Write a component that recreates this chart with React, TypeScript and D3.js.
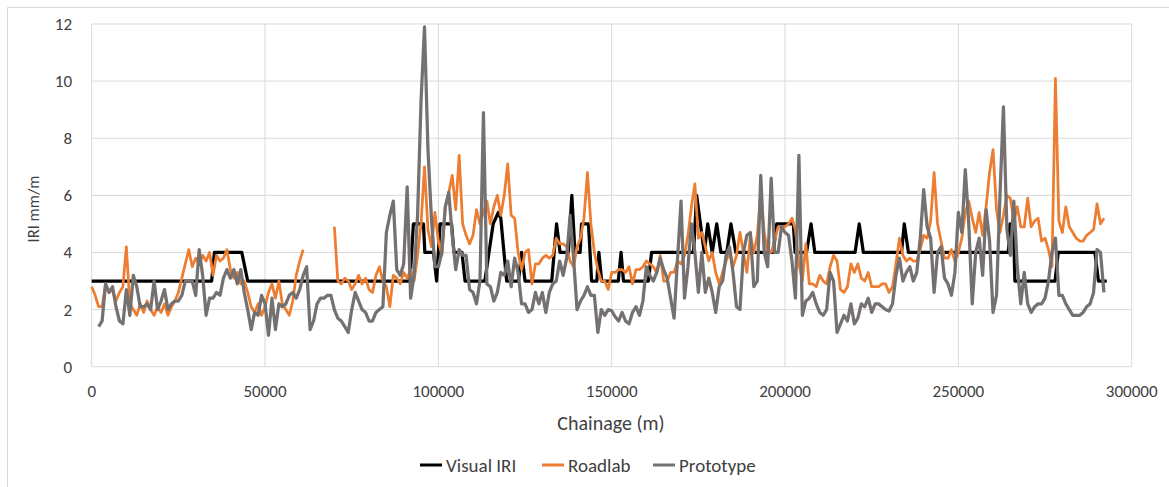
import React from 'react';
import * as d3 from 'd3';

// ---- data ----
const STEP = 1000; // chainage sampling (m)
const ROADLAB_START = 0;
const PROTOTYPE_START = 2000;

const xTicks = [0, 50000, 100000, 150000, 200000, 250000, 300000];
const yTicks = [0, 2, 4, 6, 8, 10, 12];

// Visual IRI vertices: chainage (m) and IRI
const visualChainage = [
  0, 34600, 35400, 43300, 45000, 91800, 92800, 95700, 96100, 98600, 99500, 100500, 103800, 104500, 106800, 107700,
  113400, 115800, 117300, 118000, 119700, 123100, 124000, 125000, 132700, 134100, 135100, 137500, 138500, 139400,
  140900, 141300, 143300, 144200, 145700, 146300, 147100, 151900, 152700, 153400, 160600, 161500, 173600, 174500,
  176700, 177700, 179000, 180300, 181500, 183200, 184400, 185800, 196600, 197600, 202400, 202900, 206200, 207500,
  208600, 220200, 221400, 222600, 233600, 234400, 235600, 264400, 264900, 265900, 266300, 277900, 278800, 289400,
  290400, 292800,
];
const visualIRI = [
  3, 3, 4, 4, 3, 3, 5, 5, 4, 4, 3, 5, 5, 4, 4, 3,
  3, 5, 5.4, 5.2, 3, 3, 4, 3, 3, 5, 4, 4, 6, 4,
  4, 5, 5, 3, 3, 4, 3, 3, 4, 3, 3, 4, 4, 6,
  4, 5, 4, 5, 4, 4, 5, 4, 4, 5, 5, 4, 4, 5,
  4, 4, 5, 4, 4, 5, 4, 4, 5, 5, 3, 3, 4, 4,
  3, 3,
];

// Roadlab, every 1000 m from 0 (null = no data)
const roadlab: (number | null)[] = [
  2.8, 2.5, 2.1, 2.1, 2.9, 2.6, 2.7, 2.3, 2.6, 2.8,
  4.2, 2.2, 2.0, 1.8, 2.2, 1.9, 2.3, 2.0, 1.8, 2.1,
  1.9, 2.2, 1.8, 2.1, 2.3, 2.6, 3.1, 3.6, 4.1, 3.5,
  3.8, 3.6, 3.9, 3.7, 4.0, 3.2, 3.9, 3.7, 3.8, 4.1,
  3.4, 3.1, 3.3, 2.9, 3.0, 2.6, 2.1, 1.9, 2.2, 1.8,
  2.1, 2.6, 2.9, 2.4, 3.0, 2.2, 2.0, 1.8, 2.3, 3.2,
  3.7, 4.1, null, null, null, null, null, null, null, null,
  4.9, 3.0, 2.9, 3.1, 3.0, 2.7, 2.9, 3.2, 2.9, 3.1,
  2.7, 2.6, 3.2, 3.5, 3.0, 2.8, 2.1, 3.2, 3.1, 2.9,
  3.3, 3.1, 3.4, 3.0, 3.9, 5.0, 7.0, 4.8, 4.2, 5.4,
  4.4, 3.9, 5.6, 6.1, 6.7, 5.5, 7.4, 5.0, 4.6, 4.3,
  4.6, 5.5, 5.0, 5.4, 5.8, 5.0, 5.6, 6.0, 5.3, 6.0,
  7.1, 5.3, 5.2, 4.0, 3.4, 4.0, 4.1, 2.9, 3.6, 3.6,
  3.8, 3.9, 3.8, 3.9, 4.5, 4.3, 4.3, 4.2, 3.7, 3.5,
  4.2, 4.5, 5.2, 6.8, 5.0, 4.0, 3.4, 3.0, 3.0, 2.7,
  3.3, 3.3, 3.4, 3.4, 3.3, 3.5, 2.9, 3.4, 3.4, 3.5,
  3.7, 3.6, 3.5, 3.3, 3.9, 3.0, 3.0, 3.3, 3.3, 3.7,
  3.6, 3.9, 4.6, 5.6, 6.4, 4.5, 4.7, 4.2, 3.7, 4.0,
  3.3, 2.9, 3.3, 3.7, 4.0, 3.5, 3.9, 4.7, 4.0, 3.3,
  4.6, 4.0, 4.6, 6.1, 4.7, 4.0, 4.0, 4.4, 4.9, 4.9,
  4.9, 5.0, 5.2, 4.8, 3.6, 3.0, 4.3, 2.9, 2.9, 2.8,
  3.2, 3.0, 2.9, 3.5, 3.9, 3.7, 2.7, 2.6, 2.8, 3.6,
  3.3, 3.6, 3.1, 3.0, 3.3, 2.8, 2.8, 2.8, 2.9, 2.9,
  2.6, 2.8, 3.6, 4.5, 3.9, 3.7, 3.8, 3.7, 3.7, 4.1,
  4.6, 4.5, 5.1, 6.8, 5.0, 4.4, 3.8, 3.8, 4.1, 3.7,
  4.0, 4.5, 5.4, 5.8, 5.2, 4.7, 5.4, 4.6, 5.6, 6.8,
  7.6, 5.5, 4.7, 5.3, 6.0, 5.9, 5.1, 5.6, 4.9, 4.9,
  5.9, 4.9, 5.1, 5.2, 4.4, 4.5, 4.1, 3.5, 10.1, 5.1,
  4.7, 5.6, 4.9, 4.7, 4.5, 4.4, 4.4, 4.6, 4.7, 4.8,
  5.7, 5.0, 5.2,
];

// Prototype, every 1000 m from 2000 m
const prototype: number[] = [
  1.4, 1.6, 2.9, 2.6, 2.8, 2.1, 1.6, 1.5,
  2.7, 1.8, 3.2, 2.8, 2.1, 2.1, 2.2, 2.0, 3.0, 2.0,
  2.3, 2.7, 2.0, 2.2, 2.3, 2.3, 2.5, 3.0, 3.0, 3.0,
  2.5, 4.1, 3.2, 1.8, 2.4, 2.4, 2.6, 2.5, 3.1, 3.4,
  3.1, 3.4, 2.9, 3.4, 2.6, 2.0, 1.3, 1.9, 1.8, 2.5,
  2.2, 1.1, 2.4, 1.3, 2.2, 2.1, 2.2, 2.5, 2.6, 2.4,
  2.7, 3.2, 3.5, 1.3, 1.6, 2.2, 2.4, 2.4, 2.5, 2.5,
  2.0, 1.7, 1.6, 1.4, 1.2, 2.0, 2.6, 2.3, 2.0, 1.9,
  1.6, 1.6, 1.9, 2.0, 2.1, 4.7, 5.3, 5.8, 3.4, 3.2,
  3.6, 6.3, 2.4, 3.2, 5.3, 9.3, 11.9, 7.6, 5.2, 3.5,
  3.5, 4.0, 5.6, 6.1, 4.6, 3.4, 4.1, 3.9, 3.9, 2.7,
  2.6, 2.2, 3.0, 8.9, 2.9, 2.8, 2.3, 2.6, 3.3, 3.2,
  3.7, 2.8, 3.8, 3.3, 2.2, 2.2, 1.9, 2.0, 2.6, 2.2,
  2.6, 1.9, 2.6, 2.9, 3.0, 3.7, 3.2, 3.8, 5.3, 3.8,
  2.0, 2.3, 2.5, 2.8, 2.5, 2.5, 1.2, 2.0, 1.8, 2.0,
  1.96, 1.75, 1.6, 1.9, 1.6, 1.5, 1.9, 2.1, 1.8, 2.3,
  3.5, 3.2, 3.0, 3.3, 3.8, 3.4, 3.1, 2.4, 1.7, 3.8,
  5.8, 2.4, 3.5, 5.0, 4.0, 2.6, 4.0, 2.6, 3.1, 2.6,
  1.9, 2.8, 3.0, 3.9, 4.2, 3.3, 2.1, 2.0, 4.0, 4.6,
  4.7, 2.8, 3.0, 6.7, 4.0, 3.5, 6.6, 4.0, 4.0, 4.9,
  4.7, 4.6, 3.7, 2.4, 7.4, 1.8, 2.3, 2.4, 2.6, 2.2,
  1.9, 1.8, 2.0, 3.3, 3.0, 1.2, 1.5, 1.8, 1.6, 2.2,
  1.5, 1.7, 2.2, 2.1, 2.4, 1.9, 2.2, 2.2, 2.1, 2.0,
  1.95, 2.2, 3.2, 3.8, 3.0, 3.3, 3.5, 3.0, 3.3, 4.5,
  6.2, 4.9, 4.5, 2.6, 4.0, 4.2, 3.1, 2.9, 2.5, 3.3,
  5.4, 4.7, 6.9, 5.0, 2.2, 4.0, 4.5, 3.2, 5.5, 4.4,
  1.9, 2.5, 6.0, 9.1, 4.8, 3.9, 5.8, 3.5, 2.2, 3.3,
  2.2, 1.9, 2.1, 2.2, 2.2, 2.4, 3.0, 4.0, 4.5, 2.5,
  2.5, 2.2, 2.0, 1.8, 1.8, 1.8, 1.9, 2.1, 2.2, 2.6,
  4.1, 4.0, 2.6,
];

const seriesNames = ['Visual IRI', 'Roadlab', 'Prototype'];
const seriesColors = ['#000000', '#ED7D31', '#767171'];

type Pt = [number, number | null];

export default function App() {
  const W = 1169;
  const H = 487;
  const x = d3.scaleLinear().domain([0, 300000]).range([91.7, 1131.7]);
  const y = d3.scaleLinear().domain([0, 12]).range([366.7, 24]);

  const visualPts: Pt[] = visualChainage.map((c, i) => [c, visualIRI[i]]);
  const roadPts: Pt[] = roadlab.map((v, i) => [ROADLAB_START + i * STEP, v]);
  const protoPts: Pt[] = prototype.map((v, i) => [PROTOTYPE_START + i * STEP, v]);

  const line = d3
    .line<Pt>()
    .defined((d) => d[1] !== null)
    .x((d) => x(d[0]))
    .y((d) => y(d[1] as number));

  const font = 'Carlito, Calibri, Lato, sans-serif';
  const textColor = '#404040';
  const grid = '#D9D9D9';

  const legendItems = [
    { name: seriesNames[0], color: seriesColors[0], x0: 420 },
    { name: seriesNames[1], color: seriesColors[1], x0: 542 },
    { name: seriesNames[2], color: seriesColors[2], x0: 653 },
  ];

  return (
    <svg
      width={W}
      height={H}
      style={{ position: 'absolute', left: 0, top: 0, background: '#fff' }}
      fontFamily={font}
    >
      <rect x={0} y={0} width={W} height={H} fill="#fff" />
      <path d={`M7.5,${H} V7.5 H${W}`} fill="none" stroke={grid} strokeWidth={1} />

      {/* gridlines */}
      {yTicks.map((t) => (
        <line key={'gy' + t} x1={x(0)} x2={x(300000)} y1={y(t)} y2={y(t)} stroke={grid} strokeWidth={1} />
      ))}
      {xTicks.map((t) => (
        <line key={'gx' + t} x1={x(t)} x2={x(t)} y1={y(0)} y2={y(12)} stroke={grid} strokeWidth={1} />
      ))}

      {/* tick labels */}
      {yTicks.map((t) => (
        <text key={'ly' + t} x={72} y={y(t)} dy="0.35em" textAnchor="end" fontSize={17} fill={textColor}>
          {t}
        </text>
      ))}
      {xTicks.map((t) => (
        <text key={'lx' + t} x={x(t)} y={391} dy="0.35em" textAnchor="middle" fontSize={17} fill={textColor}>
          {t}
        </text>
      ))}

      {/* axis titles */}
      <text x={611} y={423} dy="0.35em" textAnchor="middle" fontSize={20} fill={textColor}>
        Chainage (m)
      </text>
      <text
        transform={`translate(33,209) rotate(-90)`}
        dy="0.35em"
        textAnchor="middle"
        fontSize={16.5}
        fill={textColor}
      >
        IRI mm/m
      </text>

      {/* series */}
      <path d={line(visualPts) || ''} fill="none" stroke={seriesColors[0]} strokeWidth={3.25} strokeLinejoin="round" />
      <path d={line(roadPts) || ''} fill="none" stroke={seriesColors[1]} strokeWidth={2.75} strokeLinejoin="round" />
      <path d={line(protoPts) || ''} fill="none" stroke={seriesColors[2]} strokeWidth={3.25} strokeLinejoin="round" />

      {/* legend */}
      {legendItems.map((it) => (
        <g key={it.name}>
          <line x1={it.x0} x2={it.x0 + 22} y1={465} y2={465} stroke={it.color} strokeWidth={3} />
          <text x={it.x0 + 26} y={465} dy="0.35em" fontSize={19} fill={textColor}>
            {it.name}
          </text>
        </g>
      ))}
    </svg>
  );
}
